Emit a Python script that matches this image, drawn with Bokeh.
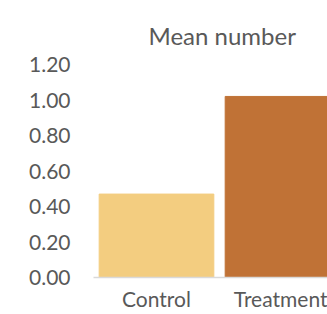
from bokeh.plotting import figure
from bokeh.models import Range1d, FixedTicker, Title, ColumnDataSource
from bokeh.embed import file_html
from bokeh.resources import INLINE

categories = ["Control", "Treatment"]
values = [0.47, 1.02]
colors = ["#F3CD80", "#C07236"]
y_ticks = [0.0, 0.2, 0.4, 0.6, 0.8, 1.0, 1.2]

xs = [i + 0.5 for i in range(len(categories))]
src = ColumnDataSource(dict(x=xs, top=values, color=colors))

p = figure(width=327, height=314, output_backend="svg", toolbar_location=None,
           x_range=Range1d(0, 1.857), y_range=Range1d(0, 1.2),
           min_border_left=93, min_border_right=0, min_border_top=64, min_border_bottom=37)
p.outline_line_color = None
p.background_fill_color = "white"
p.border_fill_color = "white"

p.vbar(x="x", top="top", width=0.91, color="color", source=src)

t = Title(text="Mean number", align="left", text_font="Lato", text_font_size="24px",
          text_font_style="normal", text_color="#595959", offset=55, standoff=30)
p.add_layout(t, "above")

p.xgrid.visible = False
p.ygrid.visible = False

p.yaxis.ticker = FixedTicker(ticks=y_ticks)
p.yaxis.major_label_overrides = {v: f"{v:.2f}" for v in y_ticks}
p.yaxis.axis_line_color = None
p.yaxis.major_tick_line_color = None
p.yaxis.minor_tick_line_color = None
p.yaxis.major_tick_out = 0
p.yaxis.major_label_standoff = 23
p.yaxis.major_label_text_font = "Lato"
p.yaxis.major_label_text_font_size = "21px"
p.yaxis.major_label_text_color = "#595959"

p.xaxis.ticker = FixedTicker(ticks=xs)
p.xaxis.major_label_overrides = {x: c for x, c in zip(xs, categories)}
p.xaxis.axis_line_color = "#D9D9D9"
p.xaxis.axis_line_width = 1.5
p.xaxis.major_tick_line_color = None
p.xaxis.minor_tick_line_color = None
p.xaxis.major_tick_out = 0
p.xaxis.major_label_standoff = 8
p.xaxis.major_label_text_font = "Lato"
p.xaxis.major_label_text_font_size = "21px"
p.xaxis.major_label_text_color = "#595959"

open("out.html", "w").write(file_html(p, INLINE))
